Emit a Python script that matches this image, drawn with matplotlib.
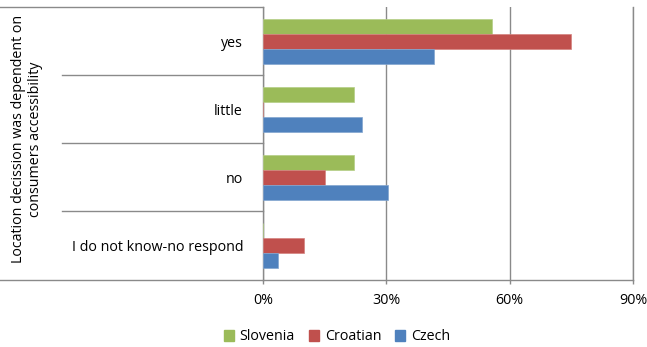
import matplotlib.pyplot as plt
from matplotlib.patches import Patch

categories = ["yes", "little", "no", "I do not know-no respond"]
slovenia = [55.6, 22.2, 22.2, 0]
croatian = [75.0, 0, 15.0, 10.0]
czech = [41.7, 24.2, 30.3, 3.7]
xticks = [0, 30, 60, 90]
xticklabels = ["0%", "30%", "60%", "90%"]

plt.rcParams['font.family'] = ['Open Sans', 'DejaVu Sans']
fs = 10.3
W, H = 647, 347
fig = plt.figure(figsize=(W/100, H/100), dpi=100)
ax = fig.add_axes([263/W, 1-279.5/H, (633-263)/W, (279.5-7)/H])

grey = "#8a8a8a"
ypos = [3, 2, 1, 0]
h = 0.22
ax.barh([y+h for y in ypos], slovenia, height=h, color="#9BBB59", edgecolor="#b5cf86", lw=0.5, zorder=3)
ax.barh(ypos, croatian, height=h, color="#C0504D", edgecolor="#d4837f", lw=0.5, zorder=3)
ax.barh([y-h for y in ypos], czech, height=h, color="#4F81BD", edgecolor="#83a6d0", lw=0.5, zorder=3)

ax.set_xlim(0, 90)
ax.set_ylim(-0.5, 3.5)
ax.set_xticks(xticks)
ax.set_xticklabels(xticklabels, fontsize=fs)
ax.set_yticks(ypos)
ax.set_yticklabels(categories, fontsize=fs)
ax.tick_params(axis="y", length=0, pad=14.4)
ax.tick_params(axis="x", length=3, color=grey, width=1, pad=7)
ax.grid(axis="x", color=grey, lw=1, zorder=0)

ax.spines["top"].set_visible(False)
for s in ["left", "bottom", "right"]:
    ax.spines[s].set_color(grey)
    ax.spines[s].set_linewidth(1)

# category separators
span = 633 - 263
for yb in [2.5, 1.5, 0.5]:
    ax.axhline(yb, xmin=(62-263)/span, xmax=0, color=grey, lw=1, clip_on=False)
for yb in [3.5, -0.5]:
    ax.axhline(yb, xmin=-263/span, xmax=0, color=grey, lw=1, clip_on=False)

fig.text(27/W, 1-139/H, "Location decission was dependent on\nconsumers accessibility",
         rotation=90, ha="center", va="center", multialignment="center", fontsize=fs)

handles = [Patch(color="#9BBB59"), Patch(color="#C0504D"), Patch(color="#4F81BD")]
fig.legend(handles, ["Slovenia", "Croatian", "Czech"], loc="center", ncol=3,
           bbox_to_anchor=(337/W, 1-337/H), frameon=False, fontsize=fs,
           handlelength=0.7, handleheight=0.7, handletextpad=0.4, columnspacing=1.0)

fig.savefig("out.png", dpi=100)
